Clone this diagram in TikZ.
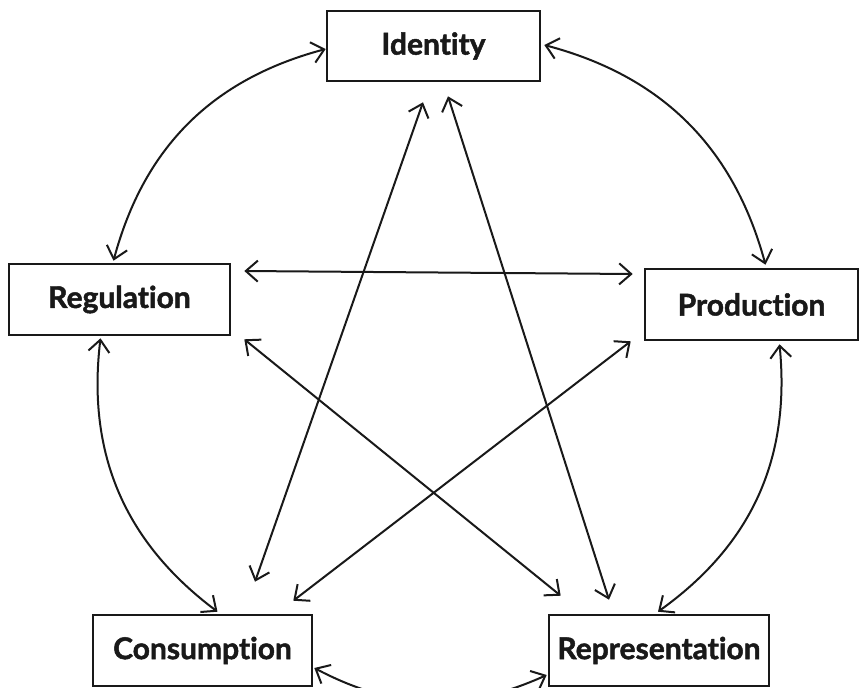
\documentclass[tikz,border=0pt]{standalone}
\usepackage{fontspec}
\setmainfont{Lato}[Ligatures={NoCommon}, BoldFeatures={FakeBold=1.6}]
\usetikzlibrary{arrows.meta,calc}
\tikzset{
  box/.style={draw=black!90, line width=2.6pt, rectangle, inner sep=0pt,
    font=\fontsize{30}{34}\selectfont\bfseries, text=black!90},
  link/.style={line width=2pt, draw=black!90,
    {Straight Barb[length=12pt,width=21pt,line width=2pt]}-{Straight Barb[length=12pt,width=21pt,line width=2pt]}}
}
\begin{document}
\begin{tikzpicture}[x=1pt,y=-1pt]
\useasboundingbox (0,0) rectangle (860,688);
\node[box, minimum width=213pt, minimum height=70pt] (id) at (433.5,46) {Identity};
\node[box, minimum width=221pt, minimum height=71pt] (reg) at (119.5,299.5) {Regulation};
\node[box, minimum width=213pt, minimum height=71pt] (prod) at (751.5,304.5) {Production};
\node[box, minimum width=219pt, minimum height=71pt] (con) at (202.5,650.5) {Consumption};
\node[box, minimum width=220pt, minimum height=71pt] (rep) at (659,650.5) {Representation};

% outer ring
\draw[link] ($(id.west)+(0,3)$) to[bend right=30] ($(reg.north)+(-6,-2)$);
\draw[link] ($(id.east)+(3,-1)$) to[bend left=30] ($(prod.north)+(14,-3)$);
\draw[link] ($(reg.south)+(-19,2)$) to[bend right=30] ($(con.north)+(15,-2)$);
\draw[link] ($(prod.south)+(28,3)$) to[bend left=30] ($(rep.north)+(-1,-2)$);
\draw[link] ($(con.east)+(1,17.5)$) to[bend right=26] ($(rep.west)+(-1,24.5)$);

% inner star
\draw[link] ($(reg.east)+(13,-28.5)$) -- ($(prod.west)+(-11,-30.5)$);
\draw[link] ($(reg.south east)+(13,3)$) -- ($(rep.north west)+(13,-18)$);
\draw[link] ($(prod.south west)+(-13,0)$) -- ($(con.north east)+(-20,-13)$);
\draw[link] ($(id.south)+(-10.5,20)$) -- ($(con.north)+(52.5,-32)$);
\draw[link] ($(id.south)+(14.5,14)$) -- ($(rep.north)+(-50,-14)$);
\end{tikzpicture}
\end{document}
